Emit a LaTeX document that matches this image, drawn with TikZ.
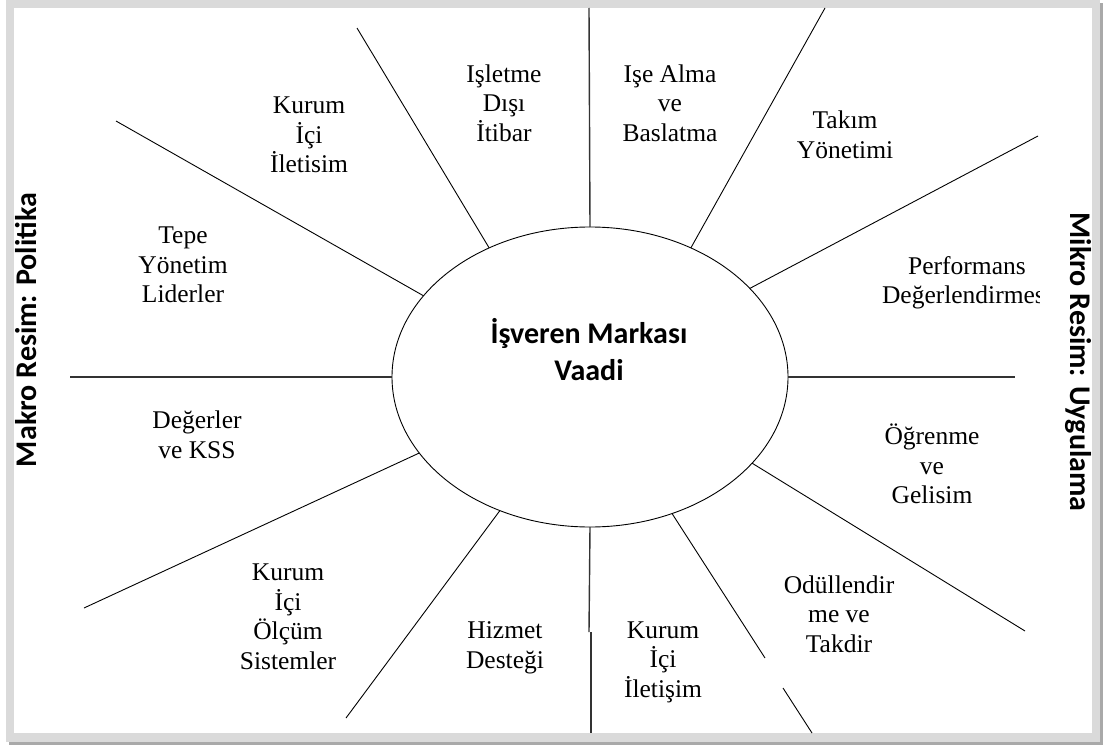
\documentclass[tikz,border=0pt]{standalone}
\usepackage{fontspec}
\setmainfont{Liberation Serif}
\newfontfamily\headfont{Carlito}
\usetikzlibrary{shapes.geometric}

\definecolor{framegray}{HTML}{DADADA}
\definecolor{shadowgray}{HTML}{A9A9A9}

\begin{document}
\begin{tikzpicture}[x=1bp, y=-1bp,
  spoke/.style={draw=black, line width=0.9bp},
  axisline/.style={draw=black!80, line width=1.4bp},
  area/.style={align=center, font=\fontsize{25.5bp}{29.5bp}\selectfont, inner sep=0pt},
  sidelabel/.style={font=\headfont\bfseries\fontsize{30bp}{34bp}\selectfont, inner sep=0pt},
]
\useasboundingbox (0,0) rectangle (1103,746);

% page frame with a soft shadow
\fill[white] (0,0) rectangle (1103,746);
\fill[framegray] (6,0) rectangle (1100,742);
\fill[shadowgray] (9,742) rectangle (1103,745);
\fill[shadowgray] (1100,3) rectangle (1103,745);
\fill[white] (14,8) rectangle (1092,733);

% central promise
\node[ellipse, draw=black, line width=0.9bp, minimum width=396bp, minimum height=300bp,
      inner sep=0pt, outer sep=0pt] (promise) at (590,377) {};
\node[font=\headfont\bfseries\fontsize{30bp}{37bp}\selectfont, align=center, inner sep=0pt]
     (promisetext) at (589,350) {İşveren Markası\\Vaadi};

% outer ends of the spokes
\coordinate (top) at (589,8);
\coordinate (botA) at (589,632);
\coordinate (botB) at (591,632);
\coordinate (botC) at (591,733);
\coordinate (left) at (70,377);
\coordinate (right) at (1015,377);
\coordinate (ulsteep) at (357,28);
\coordinate (ulflat) at (116,121);
\coordinate (ursteep) at (825,8);
\coordinate (urflat) at (1038,136);
\coordinate (llflat) at (84,608);
\coordinate (llsteep) at (346,718);
\coordinate (lrsteep) at (765,658);
\coordinate (lrgapA) at (783,688);
\coordinate (lrgapB) at (812,733);
\coordinate (lrflat) at (1025,631);

% spokes
\draw[axisline] (promise.90) -- (top);
\draw[axisline] (promise.270) -- (botA);
\draw[axisline] (botB) -- (botC);
\draw[axisline] (promise.180) -- (left);
\draw[axisline] (promise.0) -- (right);
\draw[spoke] (promise.128.6) -- (ulsteep);
\draw[spoke] (promise.154.9) -- (ulflat);
\draw[spoke] (promise.52.45) -- (ursteep);
\draw[spoke] (promise.29.05) -- (urflat);
\draw[spoke] (promise.204.7) -- (llflat);
\draw[spoke] (promise.236.3) -- (llsteep);
\draw[spoke] (promise.301.6) -- (lrsteep);
\draw[spoke] (lrgapA) -- (lrgapB);
\draw[spoke] (promise.332.5) -- (lrflat);

% sector labels
\node[area] (extrep) at (504,103) {Işletme\\Dışı\\İtibar};
\node[area] (hiring) at (670,103) {Işe Alma\\ve\\Baslatma};
\node[area] (intcomtop) at (309,135) {Kurum\\İçi\\İletisim};
\node[area] (leaders) at (183,265) {Tepe\\Yönetim\\Liderler};
\node[area] (team) at (845,135) {Takım\\Yönetimi};
\begin{scope}
  \clip (14,8) rectangle (1039,733);
  \node[area] (perf) at (967,283) {Performans\\Değerlendirmesi};
\end{scope}
\node[area] (values) at (197,435) {Değerler\\ve KSS};
\node[area] (measure) at (288,617) {Kurum\\İçi\\Ölçüm\\Sistemler};
\node[area] (service) at (505,648) {Hizmet\\Desteği};
\node[area] (intcombot) at (663,662) {Kurum\\İçi\\İletişim};
\node[area] (learn) at (932,464) {Öğrenme\\ve\\Gelisim};
\node[area] (reward) at (839,614) {Odüllendir\\me ve\\Takdir};

% side headings
\node[sidelabel, rotate=90] (macro) at (26,330) {Makro Resim: Politika};
\node[sidelabel, rotate=-90] (micro) at (1078,362) {Mikro Resim: Uygulama};
\end{tikzpicture}
\end{document}
